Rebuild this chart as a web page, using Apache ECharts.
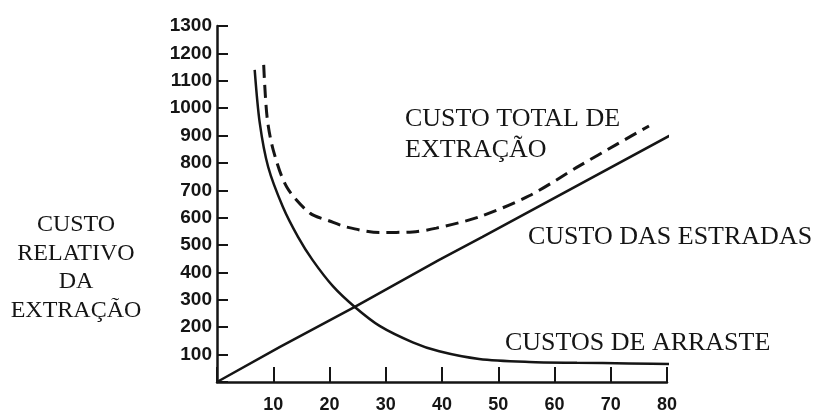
<!DOCTYPE html>
<html>
<head>
<meta charset="utf-8">
<script src="https://cdn.jsdelivr.net/npm/echarts@6/dist/echarts.min.js"></script>
<style>
html,body{margin:0;padding:0;background:#fff;}
#chart{width:819px;height:416px;}
</style>
</head>
<body>
<div id="chart"></div>
<script>
// ---- data ----
var xTicks = [0, 10, 20, 30, 40, 50, 60, 70, 80];
var yTicks = [0, 100, 200, 300, 400, 500, 600, 700, 800, 900, 1000, 1100, 1200, 1300];

var roadX = [0, 11.2, 24.5, 39.5, 47.2, 81.4];
var roadY = [0, 128, 274, 446, 530, 910];

var skidX = [6.7, 7.6, 9.1, 11.7, 14.4, 17.0, 20.6, 24.5, 28.9, 34.8, 39.5, 46.6, 55.5, 64.0, 73.2, 82.8];
var skidY = [1140, 946, 785, 640, 530, 445, 350, 274, 205, 145, 112, 84, 73, 70, 68, 65];

var totalX = [8.3, 8.9, 10.0, 12.4, 16.5, 20.0, 23.0, 28.9, 34.8, 39.0, 46.6, 55.5, 64.5, 70.9, 76.8];
var totalY = [1158, 968, 847, 712, 617, 588, 566, 546, 548, 562, 603, 680, 790, 866, 935];

var labelTotal = ['CUSTO TOTAL DE', 'EXTRAÇÃO'];
var labelRoad = 'CUSTO DAS ESTRADAS';
var labelSkid = 'CUSTOS DE ARRASTE';
var yTitle = ['CUSTO', 'RELATIVO', 'DA', 'EXTRAÇÃO'];

function pairs(xs, ys) { return xs.map(function (x, i) { return [x, ys[i]]; }); }

var INK = '#151515';
var serif = '"Liberation Serif", "DejaVu Serif", serif';

var chart = echarts.init(document.getElementById('chart'), null, {renderer: 'canvas'});

var graphics = [];
labelTotal.forEach(function (t, i) {
  graphics.push({type: 'text', x: 405, y: 119 + i * 31,
    style: {text: t, font: '26px ' + serif, fill: INK, verticalAlign: 'middle', align: 'left'}});
});
graphics.push({type: 'text', x: 528, y: 237,
  style: {text: labelRoad, font: '26px ' + serif, fill: INK, verticalAlign: 'middle', align: 'left'}});
graphics.push({type: 'text', x: 505, y: 343,
  style: {text: labelSkid, font: '26px ' + serif, fill: INK, verticalAlign: 'middle', align: 'left'}});
yTitle.forEach(function (t, i) {
  graphics.push({type: 'text', x: 76, y: 225 + i * 28.5,
    style: {text: t, font: '24px ' + serif, fill: INK, verticalAlign: 'middle', align: 'center'}});
});

chart.setOption({
  animation: false,
  backgroundColor: '#ffffff',
  grid: {left: 217, right: 152, top: 26, bottom: 34, containLabel: false},
  xAxis: {
    type: 'value', min: xTicks[0], max: xTicks[xTicks.length - 1], interval: 10,
    axisLine: {show: true, onZero: false, lineStyle: {color: INK, width: 2.5}},
    axisTick: {show: true, inside: true, length: 15, lineStyle: {color: INK, width: 2}},
    axisLabel: {margin: 14, color: INK, fontSize: 18, fontWeight: 'bold', fontFamily: '"Liberation Sans", Arial, sans-serif',
      formatter: function (v) { return v === 0 ? '' : String(v); }},
    splitLine: {show: false}
  },
  yAxis: {
    type: 'value', min: yTicks[0], max: yTicks[yTicks.length - 1], interval: 100,
    axisLine: {show: true, onZero: false, lineStyle: {color: INK, width: 2.5}},
    axisTick: {show: true, inside: true, length: 11, lineStyle: {color: INK, width: 2}},
    axisLabel: {margin: 5, color: INK, fontSize: 19, fontWeight: 'bold', fontFamily: '"Liberation Sans", Arial, sans-serif',
      formatter: function (v) { return v === 0 ? '' : String(v); }},
    splitLine: {show: false}
  },
  series: [
    {name: 'Custo das estradas', type: 'line', data: pairs(roadX, roadY), showSymbol: false, clip: false,
      lineStyle: {color: INK, width: 2.5}},
    {name: 'Custos de arraste', type: 'line', data: pairs(skidX, skidY), showSymbol: false, clip: false, smooth: 0.3,
      lineStyle: {color: INK, width: 2.5}},
    {name: 'Custo total de extração', type: 'line', data: pairs(totalX, totalY), showSymbol: false, clip: false, smooth: 0.3,
      lineStyle: {color: INK, width: 3, type: [13, 7]}}
  ],
  graphic: graphics
});
</script>
</body>
</html>
